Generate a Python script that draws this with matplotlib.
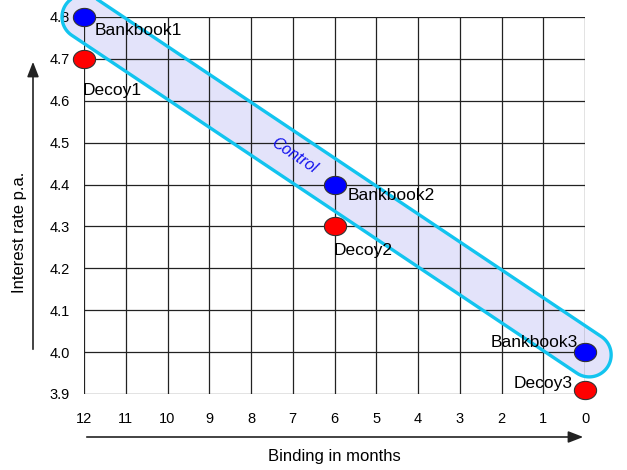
import numpy as np
import matplotlib.pyplot as plt
from matplotlib.patches import Polygon
from matplotlib.path import Path
from matplotlib.transforms import IdentityTransform

plt.rcParams['font.family'] = ['Liberation Sans', 'DejaVu Sans']

# ================================
# Dados
# ================================
months = [12, 6, 0]
bankbook_rate = [4.8, 4.4, 4.0]
decoy_rate = [4.7, 4.3, 3.91]
bankbook_names = ['Bankbook1', 'Bankbook2', 'Bankbook3']
decoy_names = ['Decoy1', 'Decoy2', 'Decoy3']
x_ticks = list(range(12, -1, -1))
y_ticks = [3.9, 4.0, 4.1, 4.2, 4.3, 4.4, 4.5, 4.6, 4.7, 4.8]

W, H = 627, 470
fig = plt.figure(figsize=(W / 100, H / 100), dpi=100)


def px(x, y):
    # pixel (a partir do topo) -> fracao da figura
    return x / W, 1 - y / H


left, top = px(84, 17)
right, bottom = px(585, 394)
ax = fig.add_axes([left, bottom, right - left, top - bottom])
ax.set_xlim(12, 0)
ax.set_ylim(3.9, 4.8)
ax.set_xticks(x_ticks)
ax.set_yticks(y_ticks)
ax.set_yticklabels([f'{v:.1f}' for v in y_ticks])
ax.tick_params(length=0, labelsize=10.5)
ax.tick_params(axis='y', pad=10)
ax.tick_params(axis='x', pad=13)
for s in ax.spines.values():
    s.set_visible(False)
ax.set_axisbelow(True)
ax.grid(True, color='#222222', linewidth=0.9)

fig.canvas.draw()


# Faixa "Control" (capsula) em coordenadas de tela
def capsule(p0, p1, r, n=60):
    d = p1 - p0
    ang = np.arctan2(d[1], d[0])
    a1 = np.linspace(ang - np.pi / 2, ang + np.pi / 2, n)
    a0 = np.linspace(ang + np.pi / 2, ang + 3 * np.pi / 2, n)
    return np.vstack([p1 + r * np.c_[np.cos(a1), np.sin(a1)],
                      p0 + r * np.c_[np.cos(a0), np.sin(a0)]])


p0 = ax.transData.transform((months[0], bankbook_rate[0]))
p1 = ax.transData.transform((months[-1], bankbook_rate[-1]))
u = (p1 - p0) / np.linalg.norm(p1 - p0)
pts = capsule(p0, p1 + u * 5, 22)
ax.add_patch(Polygon(pts, closed=True, facecolor='#e3e3fa', edgecolor='none',
                     transform=IdentityTransform(), clip_on=False, zorder=0.2))
ax.add_patch(Polygon(pts, closed=True, facecolor='none', edgecolor='#12c4ef',
                     linewidth=2.4, transform=IdentityTransform(), clip_on=False, zorder=2))

ang = np.degrees(np.arctan2(p1[1] - p0[1], p1[0] - p0[0]))
ax.text(6.97, 4.468, 'Control', color='#1010ee', style='italic', fontsize=11.5,
        rotation=ang, rotation_mode='anchor', ha='center', va='center', zorder=4)

# Pontos (elipses)
t = np.linspace(0, 2 * np.pi, 60)
ell = Path(np.c_[np.cos(t), 0.82 * np.sin(t)])
ax.plot(months, bankbook_rate, linestyle='none', marker=ell, markersize=16,
        markerfacecolor='#0000ff', markeredgecolor='#333333', markeredgewidth=0.8,
        clip_on=False, zorder=3)
ax.plot(months, decoy_rate, linestyle='none', marker=ell, markersize=16,
        markerfacecolor='#ff0000', markeredgecolor='#333333', markeredgewidth=0.8,
        clip_on=False, zorder=3)

# Rotulos
bank_off = [(11, -14, 'left'), (13, -11, 'left'), (-7, 10, 'right')]
decoy_off = [(-1, -32, 'left'), (-1, -24, 'left'), (-12, 6, 'right')]
for m, r, name, (dx, dy, ha) in zip(months, bankbook_rate, bankbook_names, bank_off):
    ax.annotate(name, (m, r), xytext=(dx, dy), textcoords='offset pixels',
                ha=ha, va='center', fontsize=12.5, zorder=5, annotation_clip=False)
for m, r, name, (dx, dy, ha) in zip(months, decoy_rate, decoy_names, decoy_off):
    ax.annotate(name, (m, r), xytext=(dx, dy), textcoords='offset pixels',
                ha=ha, va='center', fontsize=12.5, zorder=5, annotation_clip=False)

# Setas dos eixos
arrow = dict(arrowstyle='-|>,head_length=0.9,head_width=0.35', color='#222222', lw=1.2)
fig.add_artist(plt.Annotation('', xy=px(586, 437), xytext=px(84, 437),
                              xycoords='figure fraction', arrowprops=arrow))
fig.add_artist(plt.Annotation('', xy=px(33, 59), xytext=px(33, 352),
                              xycoords='figure fraction', arrowprops=arrow))

fig.text(*px(334, 457), 'Binding in months', ha='center', va='center', fontsize=12)
fig.text(*px(20, 232), 'Interest rate p.a.', ha='center', va='center',
         rotation=90, fontsize=12)

fig.savefig('out.png', dpi=100)
